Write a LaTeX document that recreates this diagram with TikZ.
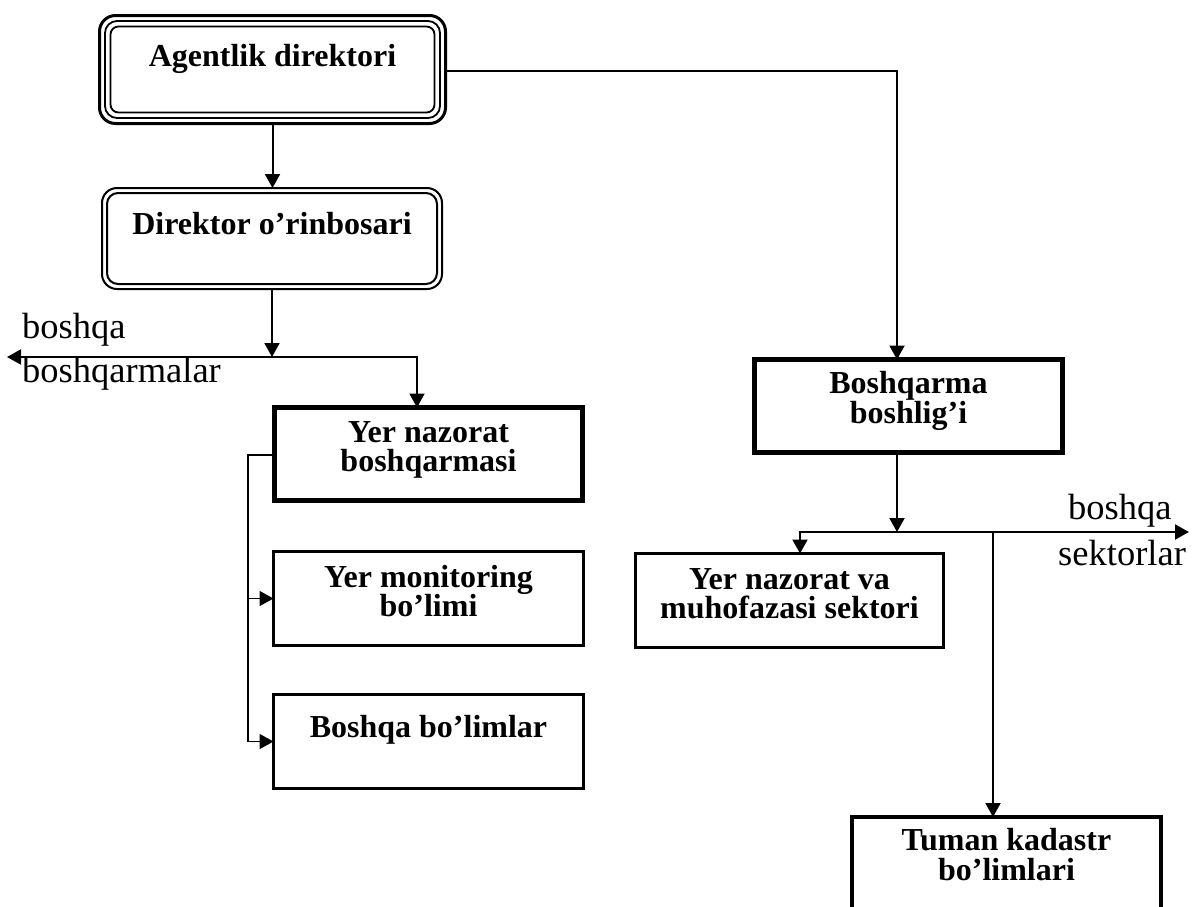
\documentclass[tikz,border=0pt]{standalone}
\usepackage{fontspec}
\setmainfont{Liberation Serif}
\usetikzlibrary{arrows.meta}
\begin{document}
\begin{tikzpicture}[x=1pt,y=-1pt,
  boxtext/.style={anchor=base,inner sep=0pt,font=\fontsize{32}{32}\selectfont\bfseries},
  sidetext/.style={anchor=base west,inner sep=0pt,font=\fontsize{36.5}{36.5}\selectfont},
  unit/.style={draw,inner sep=0pt,outer sep=0pt,line width=#1},
  tip/.tip={Triangle[length=14pt,width=15pt]},
  link/.style={line width=2pt,-tip},
  twolink/.style={line width=2pt,tip-tip},
  feed/.style={line width=1.5pt,-tip},
]
\useasboundingbox (0,0) rectangle (1192,906);

% --- top: agency director (triple rounded frame)
\node[unit=3pt,rounded corners=16pt,minimum width=346pt,minimum height=108pt] (ag) at (272.5,69.5) {};
\draw[line width=1.8pt,rounded corners=12pt]
  ([shift={(5.5pt,-5.5pt)}]ag.north west) rectangle ([shift={(-5.5pt,5.5pt)}]ag.south east);
\draw[line width=1.8pt,rounded corners=8pt]
  ([shift={(11pt,-11pt)}]ag.north west) rectangle ([shift={(-11pt,11pt)}]ag.south east);
\node[boxtext] (agt) at (272.5,66) {Agentlik direktori};

% --- deputy director (double rounded frame)
\node[unit=2pt,rounded corners=15pt,minimum width=340pt,minimum height=101pt] (dr) at (272,238.5) {};
\draw[line width=2pt,rounded corners=11pt]
  ([shift={(5pt,-5pt)}]dr.north west) rectangle ([shift={(-5pt,5pt)}]dr.south east);
\node[boxtext] (drt) at (272,234) {Direktor o’rinbosari};

% --- left column
\node[unit=5pt,minimum width=308pt,minimum height=93pt] (ynb) at (428.5,454) {};
\node[boxtext] (ynb1) at (428.5,442) {Yer nazorat};
\node[boxtext] (ynb2) at (428.5,471) {boshqarmasi};

\node[unit=3pt,minimum width=310pt,minimum height=94pt] (ymb) at (428.5,598.5) {};
\node[boxtext] (ymb1) at (428.5,587) {Yer monitoring};
\node[boxtext] (ymb2) at (428.5,616) {bo’limi};

\node[unit=3pt,minimum width=310pt,minimum height=94pt] (bb) at (428.5,741.5) {};
\node[boxtext] (bbt) at (428.5,737) {Boshqa bo’limlar};

% --- right branch
\node[unit=5pt,minimum width=308pt,minimum height=93pt] (bos) at (908.5,406) {};
\node[boxtext] (bos1) at (908.5,393) {Boshqarma};
\node[boxtext] (bos2) at (908.5,423) {boshlig’i};

\node[unit=3pt,minimum width=308pt,minimum height=94pt] (mid) at (789.5,600.5) {};
\node[boxtext] (mid1) at (789.5,589) {Yer nazorat va};
\node[boxtext] (mid2) at (789.5,618) {muhofazasi sektori};

\node[unit=4pt,minimum width=309pt,minimum height=96pt] (tum) at (1006.5,865) {};
\node[boxtext] (tum1) at (1006.5,850) {Tuman kadastr};
\node[boxtext] (tum2) at (1006.5,880) {bo’limlari};

% --- side labels
\node[sidetext] (bq1) at (22,338) {boshqa};
\node[sidetext] (bq2) at (22,382) {boshqarmalar};
\node[sidetext] (bs1) at (1068,519) {boshqa};
\node[sidetext] (bs2) at (1058,565) {sektorlar};

% --- connectors
\coordinate (j1) at (272,357);
\coordinate (lft) at (7,357);
\coordinate (k1) at (417,357);
\draw[link] (ag.south) -- (ag.south |- dr.north);
\draw[link] (dr.south) -- (j1);
\draw[twolink] (lft) -- (k1) -- (k1 |- ynb.north);

\coordinate (b0) at (248,455);
\draw[feed] (ynb.west |- b0) -- (b0) |- (bb.west);
\draw[feed] (b0 |- ymb.west) -- (ymb.west);

\coordinate (r1) at (897,71);
\draw[link] (ag.east |- r1) -- (r1) -- (r1 |- bos.north);

\coordinate (j2) at (897,532);
\coordinate (l2) at (800,532);
\coordinate (rt) at (1189,532);
\coordinate (d2) at (993,532);
\draw[link] (j2 |- bos.south) -- (j2);
\draw[twolink] (l2 |- mid.north) -- (l2) -- (rt);
\draw[link] (d2) -- (d2 |- tum.north);
\end{tikzpicture}
\end{document}
